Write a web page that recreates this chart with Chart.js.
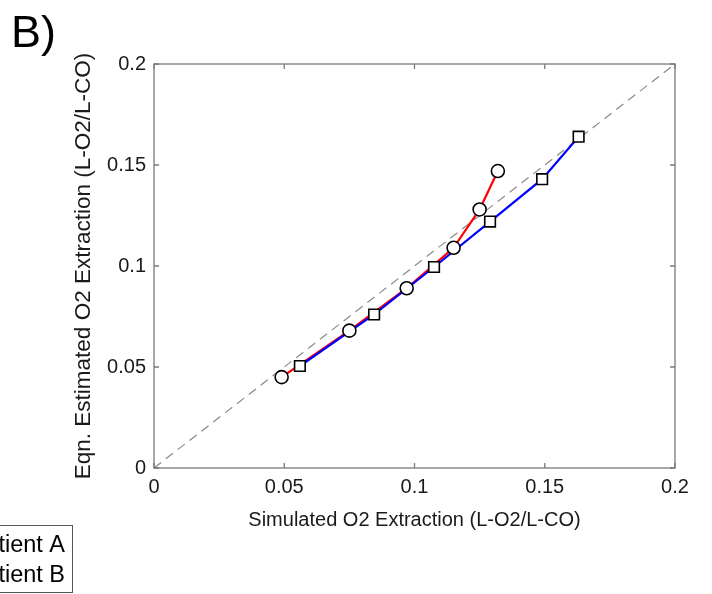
<!DOCTYPE html>
<html>
<head>
<meta charset="utf-8">
<script src="https://cdn.jsdelivr.net/npm/chart.js@4"></script>
<style>
  html, body { margin: 0; padding: 0; background: #fff; }
  #wrap { width: 712px; height: 594px; }
</style>
</head>
<body>
<div id="wrap"><canvas id="o2Chart" width="712" height="594"></canvas></div>
<script>
// values
const simA = [0.049, 0.075, 0.097, 0.115, 0.125, 0.132];
const estA = [0.045, 0.068, 0.089, 0.109, 0.128, 0.147];
const simB = [0.056, 0.0845, 0.1075, 0.129, 0.149, 0.163];
const estB = [0.0505, 0.076, 0.0995, 0.122, 0.143, 0.164];
const identity = [0, 0.2];
const tickValues = [0, 0.05, 0.1, 0.15, 0.2];
const tickLabels = ['0', '0.05', '0.1', '0.15', '0.2'];
const seriesNames = ['Patient A', 'Patient B'];

const FONT = '"Liberation Sans", Arial, Helvetica, sans-serif';

const toPoints = (xs, ys) => xs.map((x, i) => ({ x: x, y: ys[i] }));
const ptsA = toPoints(simA, estA);
const ptsB = toPoints(simB, estB);

const boxAndTicks = {
    id: 'boxAndTicks',
    afterDraw(chart) {
        const c = chart.ctx;
        const a = chart.chartArea;
        const xs = chart.scales.x, ys = chart.scales.y;
        c.save();
        c.strokeStyle = '#7a7a7a';
        c.lineWidth = 1.3;
        c.strokeRect(a.left, a.top, a.right - a.left, a.bottom - a.top);
        const len = 5;
        c.beginPath();
        tickValues.forEach(v => {
            const px = xs.getPixelForValue(v);
            c.moveTo(px, a.bottom); c.lineTo(px, a.bottom - len);
            c.moveTo(px, a.top); c.lineTo(px, a.top + len);
            const py = ys.getPixelForValue(v);
            c.moveTo(a.left, py); c.lineTo(a.left + len, py);
            c.moveTo(a.right, py); c.lineTo(a.right - len, py);
        });
        c.stroke();

        // panel letter
        c.fillStyle = '#000';
        c.font = '45px ' + FONT;
        c.textAlign = 'left';
        c.textBaseline = 'alphabetic';
        c.fillText('B)', 11, 47);

        // legend (cut by the left edge as in the figure)
        c.strokeStyle = '#555';
        c.lineWidth = 1;
        c.fillStyle = '#fff';
        c.fillRect(-90, 525, 162, 68);
        c.strokeRect(-90, 525.5, 162.5, 67);
        const rows = [
            { y: 545, color: '#ff0000' },
            { y: 575, color: '#0000ff' }
        ];
        rows.forEach((r, i) => {
            c.strokeStyle = r.color;
            c.lineWidth = 2;
            c.beginPath();
            c.moveTo(-80, r.y); c.lineTo(-40, r.y);
            c.stroke();
            c.fillStyle = '#000';
            c.font = '23.5px ' + FONT;
            c.textAlign = 'right';
            c.textBaseline = 'middle';
            c.fillText(seriesNames[i], 65, r.y + 1);
        });
        c.restore();
    }
};

new Chart(document.getElementById('o2Chart').getContext('2d'), {
    type: 'scatter',
    data: {
        datasets: [
            {
                label: seriesNames[0] + ' markers',
                data: ptsA,
                showLine: false,
                pointStyle: 'circle',
                pointRadius: 6.5,
                pointBorderWidth: 1.6,
                pointBorderColor: '#000',
                pointBackgroundColor: '#fff',
                order: 0
            },
            {
                label: seriesNames[1] + ' markers',
                data: ptsB,
                showLine: false,
                pointStyle: 'rect',
                pointRadius: 7.5,
                pointBorderWidth: 1.6,
                pointBorderColor: '#000',
                pointBackgroundColor: '#fff',
                order: 0
            },
            {
                label: seriesNames[1],
                data: ptsB,
                showLine: true,
                borderColor: '#0000ff',
                borderWidth: 2.2,
                pointRadius: 0,
                order: 1
            },
            {
                label: seriesNames[0],
                data: ptsA,
                showLine: true,
                borderColor: '#ff0000',
                borderWidth: 2.2,
                pointRadius: 0,
                order: 2
            },
            {
                label: 'identity',
                data: toPoints(identity, identity),
                showLine: true,
                borderColor: '#8a8a8a',
                borderWidth: 1.2,
                borderDash: [9, 6],
                pointRadius: 0,
                order: 3
            }
        ]
    },
    options: {
        responsive: false,
        animation: false,
        events: [],
        layout: { padding: { left: 66, top: 64, right: 37, bottom: 58 } },
        plugins: {
            legend: { display: false },
            tooltip: { enabled: false }
        },
        scales: {
            x: {
                type: 'linear',
                min: 0,
                max: 0.2,
                afterBuildTicks: s => { s.ticks = tickValues.map(v => ({ value: v })); },
                afterFit: s => { s.height = 68; },
                grid: { display: false, drawTicks: false },
                border: { display: false },
                ticks: {
                    padding: 7,
                    color: '#1a1a1a',
                    font: { family: FONT, size: 20 },
                    maxRotation: 0,
                    callback: (v, i) => tickLabels[i]
                },
                title: {
                    display: true,
                    text: 'Simulated O2 Extraction (L-O2/L-CO)',
                    color: '#1a1a1a',
                    font: { family: FONT, size: 20 }
                }
            },
            y: {
                type: 'linear',
                min: 0,
                max: 0.2,
                afterBuildTicks: s => { s.ticks = tickValues.map(v => ({ value: v })); },
                afterFit: s => { s.width = 88; },
                grid: { display: false, drawTicks: false },
                border: { display: false },
                ticks: {
                    padding: 8,
                    color: '#1a1a1a',
                    font: { family: FONT, size: 20 },
                    callback: (v, i) => tickLabels[i]
                },
                title: {
                    display: true,
                    text: 'Eqn. Estimated O2 Extraction (L-O2/L-CO)',
                    color: '#1a1a1a',
                    font: { family: FONT, size: 22.5 }
                }
            }
        }
    },
    plugins: [boxAndTicks]
});
</script>
</body>
</html>
